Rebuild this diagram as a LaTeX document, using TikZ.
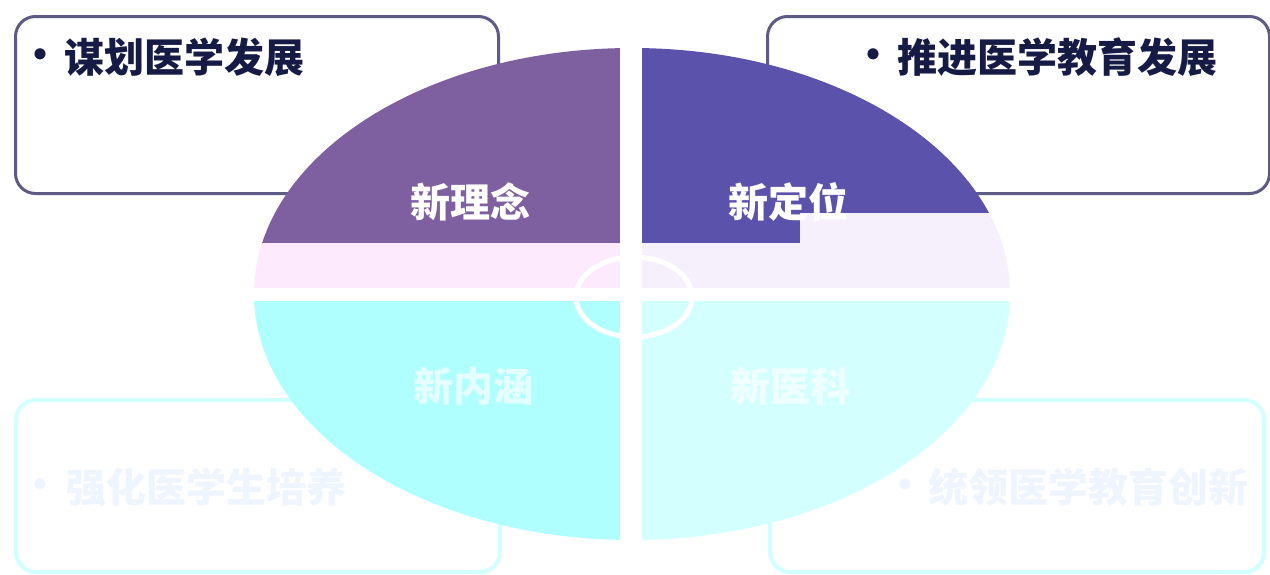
\documentclass[tikz,border=0pt]{standalone}
\usepackage{fontspec}
\newfontfamily\cjk{Noto Sans CJK SC}
\definecolor{boxline}{HTML}{5D5A86}
\definecolor{navy}{HTML}{161B45}
\definecolor{tlpurple}{HTML}{7E5FA0}
\definecolor{trpurple}{HTML}{5A52AB}
\definecolor{tlpale}{HTML}{FDEAFD}
\definecolor{trpale}{HTML}{F6F0FD}
\definecolor{blcyan}{HTML}{B0FFFF}
\definecolor{brcyan}{HTML}{D4FFFF}
\definecolor{faintline}{HTML}{D2FFFF}
\definecolor{fainttext}{HTML}{EFF5FE}
\tikzset{
  topbox/.style={draw=boxline, line width=3pt, fill=white, rounded corners=20pt, anchor=north west, inner sep=0pt},
  botbox/.style={draw=faintline, line width=4pt, fill=white, rounded corners=20pt, anchor=north west, inner sep=0pt},
  txt/.style={font=\cjk\bfseries\fontsize{40pt}{48pt}\selectfont, text=navy, inner sep=0pt},
  ftxt/.style={txt, text=fainttext},
  qlabel/.style={font=\cjk\bfseries\fontsize{40pt}{48pt}\selectfont, text=white, inner sep=0pt},
}
\begin{document}
\begin{tikzpicture}[x=1pt,y=-1pt]
\useasboundingbox (0,0) rectangle (1270,574);
\fill[white] (0,0) rectangle (1270,574);
% boxes
\node[topbox, minimum width=483pt, minimum height=177pt] (tlbox) at (14,15) {};
\node[topbox, minimum width=502pt, minimum height=177pt] (trbox) at (766,15) {};
\node[botbox, minimum width=484pt, minimum height=172pt] (blbox) at (14,398) {};
\node[botbox, minimum width=494pt, minimum height=172pt] (brbox) at (768,398) {};
% box texts
\node[txt] (tlb) at (40,59) {•};
\node[txt, anchor=west] (tlt) at (64,57) {谋划医学发展};
\node[txt] (trb) at (873,59) {•};
\node[txt, anchor=west] (trt) at (897,57) {推进医学教育发展};
\node[ftxt] (blb) at (40,489) {•};
\node[ftxt, anchor=west] (blt) at (66,487) {强化医学生培养};
\node[ftxt] (brb) at (905,489) {•};
\node[ftxt, anchor=west] (brt) at (928,487) {统领医学教育创新};
% quadrants
\begin{scope}
\clip (632,294) ellipse [x radius=378pt, y radius=246pt];
\fill[tlpurple] (240,40) rectangle (620,243);
\fill[tlpale] (240,243) rectangle (620,288);
\fill[trpurple] (642,40) rectangle (800,243);
\fill[trpurple] (800,40) rectangle (1020,213);
\fill[trpale] (800,213) rectangle (1020,288);
\fill[trpale] (642,243) rectangle (800,288);
\fill[blcyan] (240,301) rectangle (620,550);
\fill[brcyan] (642,301) rectangle (1020,550);
\end{scope}
% centre ring
\draw[white, line width=5pt] (634,297) ellipse [x radius=58pt, y radius=40pt];
% quadrant labels
\node[qlabel] (q1) at (470,202) {新理念};
\node[qlabel] (q2) at (788,202) {新定位};
\node[qlabel, opacity=0.65] (q3) at (473,386) {新内涵};
\node[qlabel, opacity=0.65] (q4) at (790,386) {新医科};
\end{tikzpicture}
\end{document}
